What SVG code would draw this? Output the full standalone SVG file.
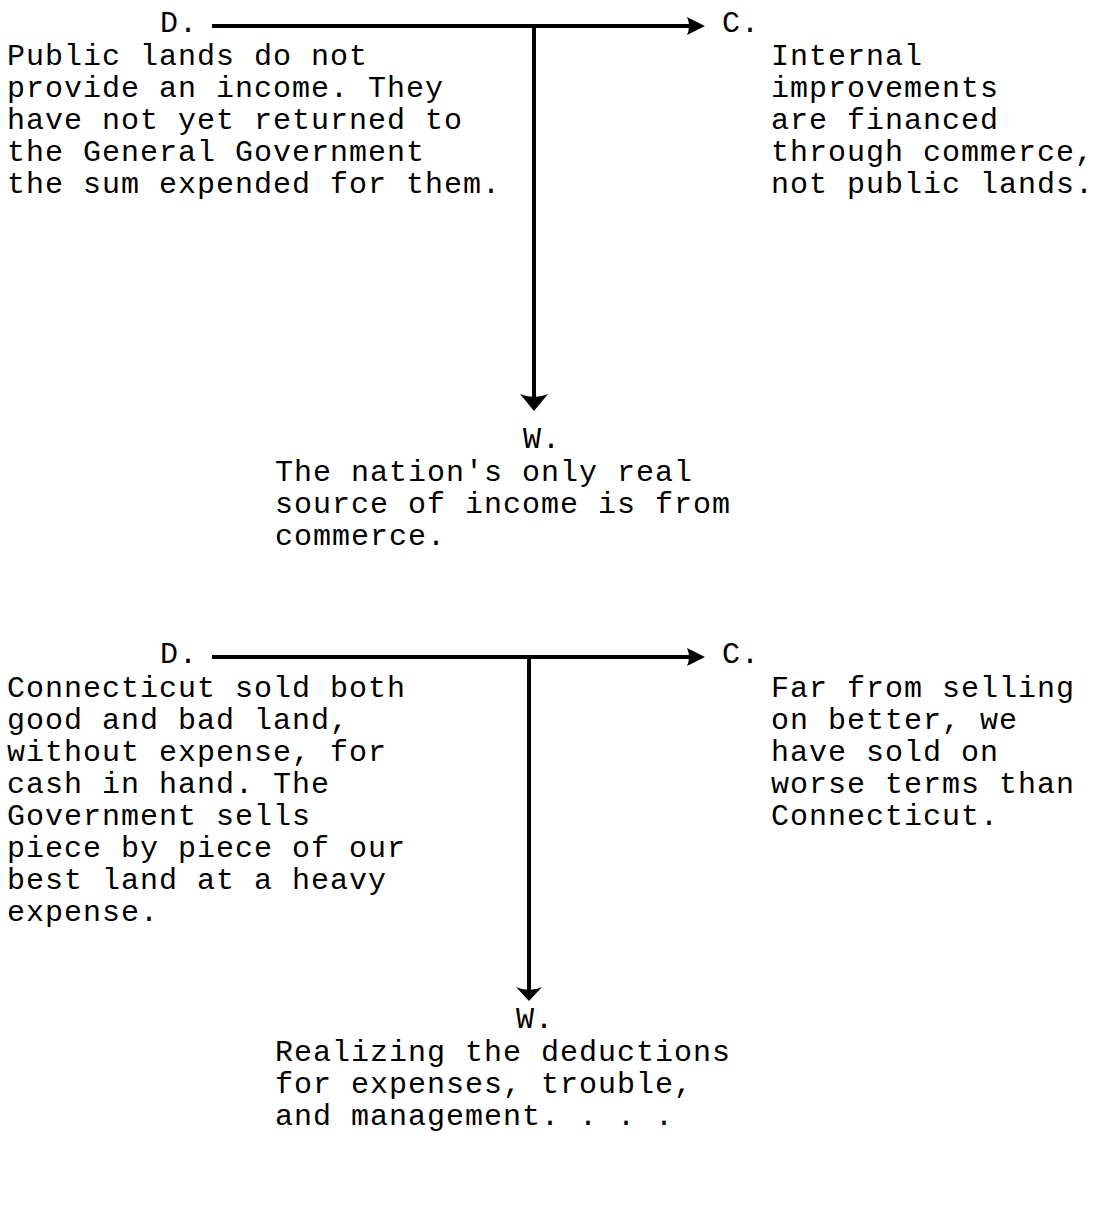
<svg xmlns="http://www.w3.org/2000/svg" width="1101" height="1223" viewBox="0 0 1101 1223">
  <style>
    text { font-family: "Liberation Mono", "Courier New", monospace; font-size: 30px; letter-spacing: 1px; fill: #000; }
    .shaft { stroke: #000; stroke-width: 4; fill: none; }
    .head { fill: #000; stroke: none; }
  </style>
  <rect width="1101" height="1223" fill="#fff"/>

  <!-- connectors: data to claim (horizontal), warrant down from the data-claim line -->
  <g id="connectors">
    <line class="shaft" x1="212" y1="26" x2="690" y2="26"/>
    <path class="head" d="M705 26 L687 17 Q691 26 687 35 Z"/>
    <line class="shaft" x1="534" y1="26" x2="534" y2="398"/>
    <path class="head" d="M534 411 L520 394 Q534 400 548 394 Z"/>

    <line class="shaft" x1="212" y1="657" x2="690" y2="657"/>
    <path class="head" d="M705 657 L687 648 Q691 657 687 666 Z"/>
    <line class="shaft" x1="529" y1="657" x2="529" y2="990"/>
    <path class="head" d="M529 1001 L516 987 Q529 993 542 987 Z"/>
  </g>

  <!-- first argument -->
  <g id="d1">
    <text x="160" y="32">D.</text>
    <text x="7" y="65">Public lands do not</text>
    <text x="7" y="97">provide an income.  They</text>
    <text x="7" y="129">have not yet returned to</text>
    <text x="7" y="161">the General Government</text>
    <text x="7" y="193">the sum expended for them.</text>
  </g>
  <g id="c1">
    <text x="722" y="32">C.</text>
    <text x="771" y="65">Internal</text>
    <text x="771" y="97">improvements</text>
    <text x="771" y="129">are financed</text>
    <text x="771" y="161">through commerce,</text>
    <text x="771" y="193">not public lands.</text>
  </g>
  <g id="w1">
    <text x="523" y="448">W.</text>
    <text x="275" y="481">The nation's only real</text>
    <text x="275" y="513">source of income is from</text>
    <text x="275" y="545">commerce.</text>
  </g>

  <!-- second argument -->
  <g id="d2">
    <text x="160" y="663">D.</text>
    <text x="7" y="697">Connecticut sold both</text>
    <text x="7" y="729">good and bad land,</text>
    <text x="7" y="761">without expense, for</text>
    <text x="7" y="793">cash in hand.  The</text>
    <text x="7" y="825">Government sells</text>
    <text x="7" y="857">piece by piece of our</text>
    <text x="7" y="889">best land at a heavy</text>
    <text x="7" y="921">expense.</text>
  </g>
  <g id="c2">
    <text x="722" y="663">C.</text>
    <text x="771" y="697">Far from selling</text>
    <text x="771" y="729">on better, we</text>
    <text x="771" y="761">have sold on</text>
    <text x="771" y="793">worse terms than</text>
    <text x="771" y="825">Connecticut.</text>
  </g>
  <g id="w2">
    <text x="516" y="1028">W.</text>
    <text x="275" y="1061">Realizing the deductions</text>
    <text x="275" y="1093">for expenses, trouble,</text>
    <text x="275" y="1125">and management. . . .</text>
  </g>
</svg>
